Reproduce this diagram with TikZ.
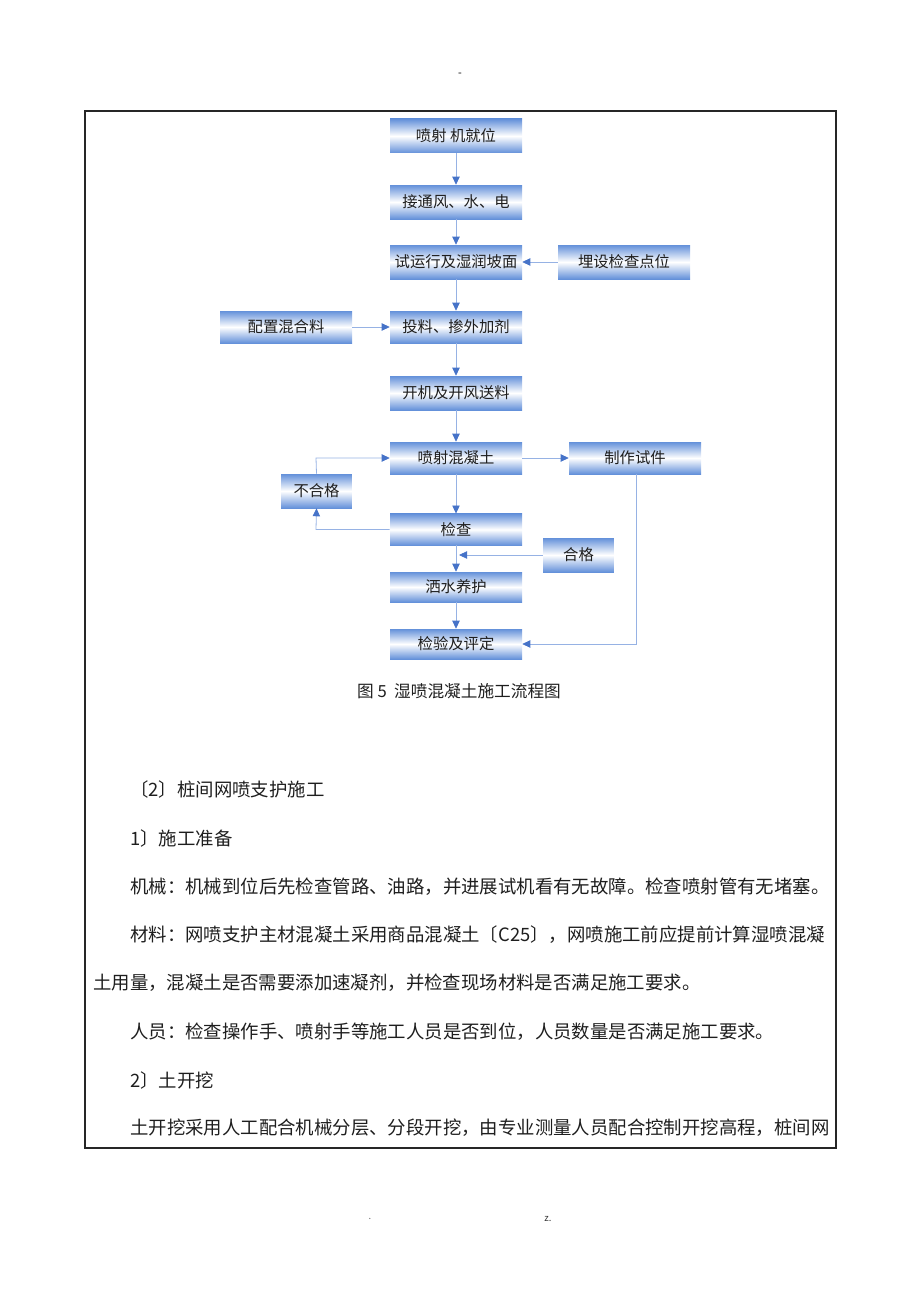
\documentclass[tikz,border=0pt]{standalone}
\usepackage{fontspec}
\setmainfont{Noto Sans CJK SC}
\usetikzlibrary{arrows.meta}
\definecolor{boxblue}{RGB}{100,145,218}
\definecolor{lineblue}{RGB}{150,178,228}
\definecolor{tipblue}{RGB}{70,115,200}
\definecolor{txt}{RGB}{30,30,30}
\tikzset{
  fbox/.style={shading=axis,top color=boxblue,bottom color=boxblue,middle color=white,
    minimum width=99pt,minimum height=25pt,inner sep=0pt,font=\fontsize{11.5pt}{13pt}\selectfont,text=txt},
  sbox/.style={fbox,minimum width=53pt},
  conn/.style={draw=lineblue,line width=0.6pt,
    arrows={-{Triangle[length=6pt,width=5.5pt,color=tipblue]}}},
  body/.style={anchor=west,inner sep=0pt,font=\fontsize{13.8pt}{16pt}\selectfont,text=txt},
}
\begin{document}
\begin{tikzpicture}[x=0.75pt,y=-0.75pt]
\useasboundingbox (0,0) rectangle (920,1302);
\node[inner sep=0pt,font=\fontsize{8pt}{9pt}\selectfont] (dash) at (460,75) {-};
\draw[line width=0.9pt,draw=black!85] (85,111) rectangle (836,1148);
% flowchart nodes
\node[fbox,minimum height=25.5pt] (A) at (456,136) {喷射 机就位};
\node[fbox,minimum height=25.5pt] (B) at (456,202) {接通风、水、电};
\node[fbox,minimum height=25.5pt] (C) at (456,262) {试运行及湿润坡面};
\node[fbox,minimum height=25.5pt] (D) at (624,262) {埋设检查点位};
\node[fbox,minimum height=24pt] (E) at (286,327) {配置混合料};
\node[fbox,minimum height=24pt] (F) at (456,327) {投料、掺外加剂};
\node[fbox,minimum height=25.5pt] (G) at (456,393) {开机及开风送料};
\node[fbox,minimum height=24pt] (H) at (456,458) {喷射混凝土};
\node[fbox,minimum height=24pt] (I) at (635,458) {制作试件};
\node[sbox,minimum height=25.5pt] (J) at (316.5,491) {不合格};
\node[fbox,minimum height=23.5pt] (K) at (456,529.5) {检查};
\node[sbox,minimum height=25.5pt] (L) at (578.5,555) {合格};
\node[fbox,minimum height=22.5pt] (M) at (456,587) {洒水养护};
\node[fbox,minimum height=22.5pt] (N) at (456,644) {检验及评定};
% helper coordinates
\coordinate (jt) at (316,458);
\coordinate (jb) at (316,529.5);
\coordinate (lt) at (459,555);
\coordinate (it) at (636,644);
% connectors
\draw[conn] (A) -- (B);
\draw[conn] (B) -- (C);
\draw[conn] (D) -- (C);
\draw[conn] (C) -- (F);
\draw[conn] (E) -- (F);
\draw[conn] (F) -- (G);
\draw[conn] (G) -- (H);
\draw[conn] (H) -- (I);
\draw[conn] (H) -- (K);
\draw[conn] (K) -- (M);
\draw[conn] (M) -- (N);
\draw[conn] (K.west) -- (jb) -- (J.south);
\draw[conn] (J.north) -- (jt) -- (H.west);
\draw[conn] (L.west) -- (lt);
\draw[conn] (I.south -| it) -- (it) -- (N.east);
% caption
\node[inner sep=0pt,font=\fontsize{12.5pt}{14pt}\selectfont,text=txt] (cap) at (459,691) {图 5\ \ 湿喷混凝土施工流程图};
% body text
\node[body] (t1) at (130,789) {〔2〕桩间网喷支护施工};
\node[body] (t2) at (130,838) {1〕施工准备};
\node[body] (t3) at (130,887) {机械：机械到位后先检查管路、油路，并进展试机看有无故障。检查喷射管有无堵塞。};
\node[body] (t4) at (130,935) {材料：网喷支护主材混凝土采用商品混凝土〔C25〕，网喷施工前应提前计算湿喷混凝};
\node[body] (t5) at (93,983) {土用量，混凝土是否需要添加速凝剂，并检查现场材料是否满足施工要求。};
\node[body] (t6) at (130,1032) {人员：检查操作手、喷射手等施工人员是否到位，人员数量是否满足施工要求。};
\node[body] (t7) at (130,1080) {2〕土开挖};
\node[body] (t8) at (130,1128) {土开挖采用人工配合机械分层、分段开挖，由专业测量人员配合控制开挖高程，桩间网};
% footer
\node[inner sep=0pt,font=\fontsize{7pt}{8pt}\selectfont,text=black!60] (f1) at (370,1219) {.};
\node[inner sep=0pt,font=\fontsize{7pt}{8pt}\selectfont,text=black!80] (f2) at (548,1219) {z.};
\end{tikzpicture}
\end{document}
